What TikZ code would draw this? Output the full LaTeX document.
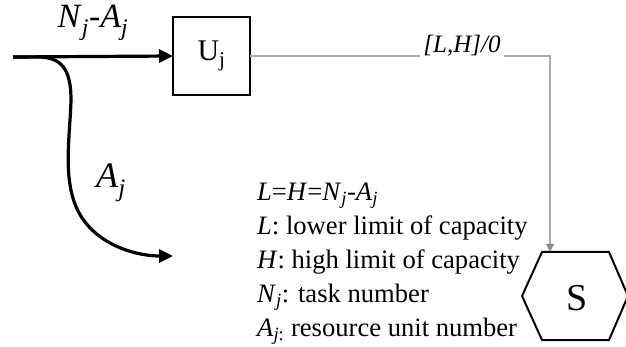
\documentclass[tikz,border=0pt]{standalone}
\usepackage{fontspec}
\setmainfont{Liberation Serif}
\usetikzlibrary{arrows.meta}
\definecolor{conn}{HTML}{ABABAB}
\definecolor{conntip}{HTML}{8E8E8E}
\begin{document}
\begin{tikzpicture}[x=1pt,y=-1pt,
  flow/.style={line width=3.2pt,-{Triangle[length=14pt,width=13pt]}},
  unitbox/.style={draw,line width=2.4pt,minimum width=77pt,minimum height=78pt,inner sep=0pt,outer sep=0pt,font=\fontsize{30}{36}\selectfont},
  hexline/.style={line width=2pt,line join=miter},
  grayconn/.style={draw=conn,line width=1.1pt,-{Triangle[length=8pt,width=8pt,color=conntip]}},
  lbl/.style={inner sep=0pt,font=\fontsize{25}{30}\selectfont},
  notes/.style={inner sep=0pt,align=left,font=\fontsize{26.6}{34}\selectfont}
]
\useasboundingbox (0,0) rectangle (626,347);
% nodes
\coordinate (start) at (13,57);
\node[unitbox] (U) at (211.5,56) {U\textsubscript{j}};
\coordinate (corner) at (550,56);
\coordinate (hextop) at (550,252);
\coordinate (aend) at (173,256);
\node[inner sep=0pt,font=\fontsize{38}{44}\selectfont] (S) at (577,298) {S};
% hexagon
\draw[hexline,shift={(575,296)}] (-53,0) -- (-33,-44) -- (34,-44) -- (53,0) -- (34,44) -- (-33,44) -- cycle;
% flows
\draw[flow] (start) -- (U.west);
\draw[flow] (start) -- (38,57) .. controls (62,57) and (71,70) .. (71,100)
  .. controls (70,140) and (60,190) .. (85,222)
  .. controls (105,248) and (140,256) .. (aend);
% gray connector
\draw[grayconn] (U.east) -- (corner) -- (hextop);
% labels
\node[inner sep=0pt,anchor=base,font=\fontsize{34}{40}\selectfont] (lab1) at (93,28) {\textit{N}\textsubscript{\textit{j}}-\textit{A}\textsubscript{\textit{j}}};
\node[lbl,anchor=base,fill=white,inner sep=3pt] (lab2) at (462,53) {\textit{[L,H]/0}};
\node[inner sep=0pt,anchor=base west,font=\fontsize{36}{40}\selectfont] (lab3) at (96,188) {\textit{A}\textsubscript{\textit{j}}};
\node[notes,anchor=north west] (txt) at (257,182.5) {%
\textit{L}=\textit{H}=\textit{N}\textsubscript{\textit{j}}-\textit{A}\textsubscript{\textit{j}}\\
\textit{L}: lower limit of capacity\\
\textit{H}: high limit of capacity\\
\textit{N}\textsubscript{\textit{j}}: task number\\
\textit{A}\textsubscript{\textit{j}:} resource unit number};
\end{tikzpicture}
\end{document}
